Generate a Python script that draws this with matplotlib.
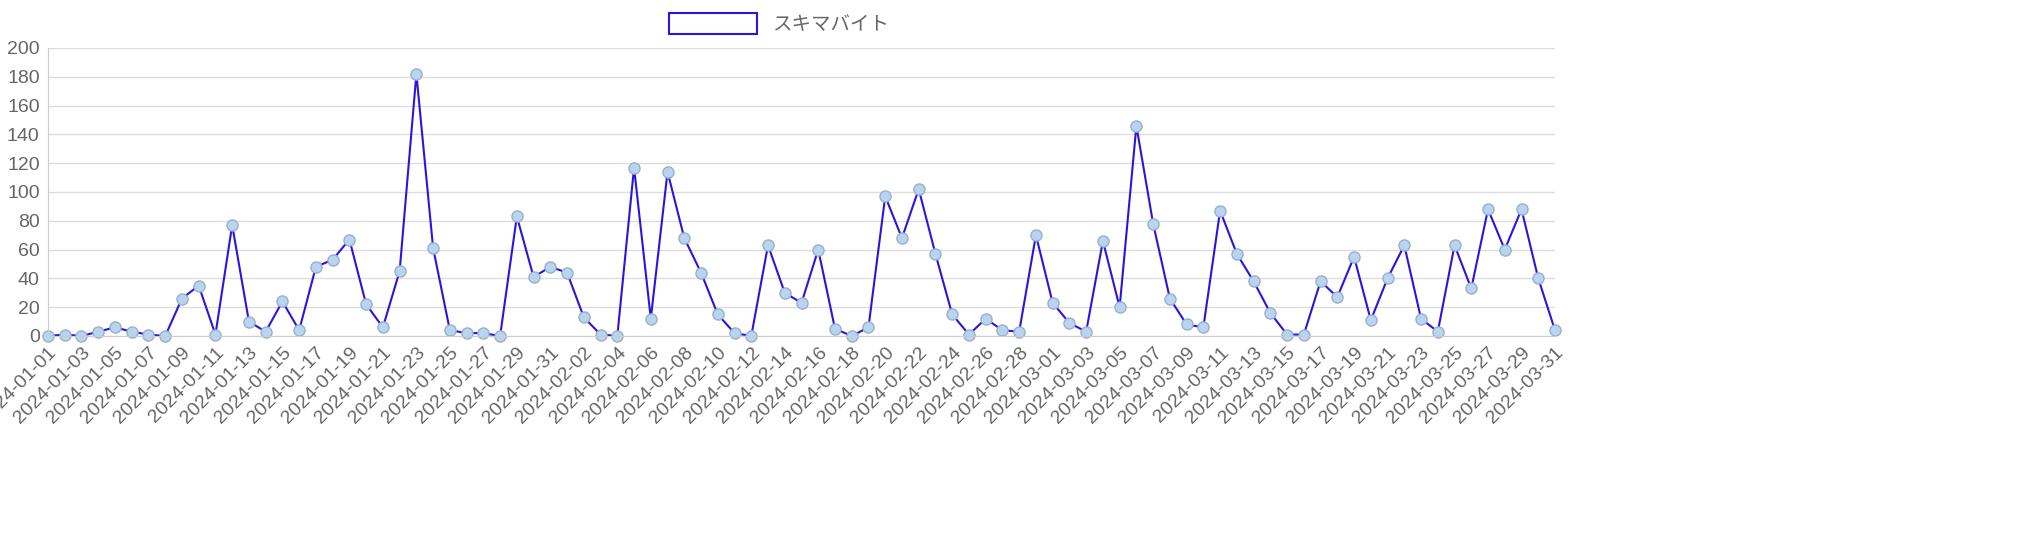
import matplotlib
matplotlib.use("Agg")
import matplotlib.pyplot as plt
import pandas as pd
from matplotlib.patches import Patch

plt.rcParams['font.family'] = ['Liberation Sans', 'Noto Sans CJK JP', 'DejaVu Sans']

dates = pd.date_range("2024-01-01", "2024-03-31").strftime("%Y-%m-%d").tolist()
values = [0,1,0,3,6,3,1,0,26,35,1,77,10,3,24,4,48,53,67,22,6,45,182,61,4,2,2,0,83,41,
          48,44,13,1,0,117,12,114,68,44,15,2,0,63,30,23,60,5,0,6,97,68,102,57,15,1,12,4,3,70,
          23,9,3,66,20,146,78,26,8,6,87,57,38,16,1,1,38,27,55,11,40,63,12,3,63,33,88,60,88,40,4]
series_name = "スキマバイト"

fig = plt.figure(figsize=(20.24, 5.6), dpi=100)
ax = fig.add_axes([48/2024, 1-336/560, (1555-48)/2024, (336-48)/560])
x = list(range(len(dates)))
ax.plot(x, values, color='#2a14e0', lw=1.5, marker='o', markersize=8,
        markerfacecolor='#b8d4f0', markeredgecolor='#9ab0c8', markeredgewidth=1, clip_on=False)
ax.set_ylim(0, 200)
ax.set_yticks(range(0, 201, 20))
ax.set_xlim(0, len(dates)-1)
ax.set_xticks(x[::2])
ax.set_xticklabels(dates[::2], rotation=45, ha='right', rotation_mode='anchor')
ax.tick_params(axis='both', labelsize=14, colors='#666666', length=0, pad=6)
ax.grid(True, axis='y', color='#dddddd', lw=1)
ax.set_axisbelow(True)
for s in ['top', 'right']:
    ax.spines[s].set_visible(False)
for s in ['left', 'bottom']:
    ax.spines[s].set_color('#cccccc')
handle = Patch(facecolor='white', edgecolor='#2a14e0', linewidth=1.5)
fig.legend([handle], [series_name], loc='center', bbox_to_anchor=(0.385, 0.958),
           frameon=False, fontsize=14, handlelength=4.5, handleheight=1.3, labelcolor='#666666')
fig.savefig("out.png", dpi=100)
